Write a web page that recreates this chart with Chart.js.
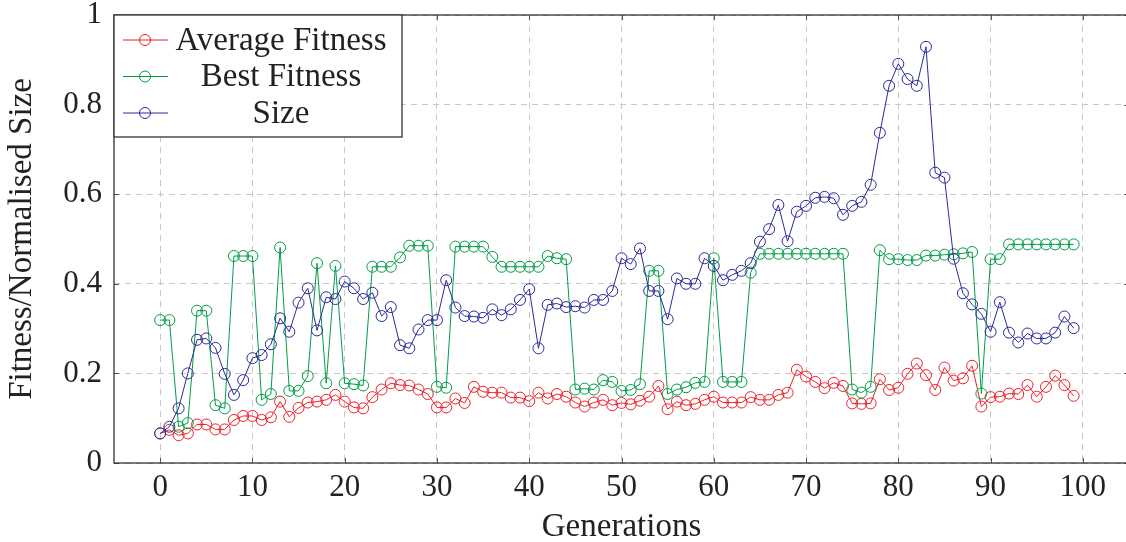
<!DOCTYPE html>
<html>
<head>
<meta charset="utf-8">
<title>Fitness and size per generation</title>
<script src="https://cdn.jsdelivr.net/npm/chart.js@4.4.1/dist/chart.umd.min.js"></script>
<style>
  html, body { margin: 0; padding: 0; background: #fff; overflow: hidden; }
  #wrap { position: absolute; left: 0; top: 0; width: 1140px; height: 542px; }
</style>
</head>
<body>
<div id="wrap"><canvas id="evoChart"></canvas></div>
<script>
/* global Chart */

// generation index for every sample
const generations = Array.from({ length: 100 }, (_, i) => i);

const avgFitness = [
  0.066, 0.074, 0.062, 0.066, 0.086, 0.086, 0.075, 0.075, 0.096, 0.105,
  0.105, 0.096, 0.102, 0.137, 0.103, 0.123, 0.135, 0.137, 0.141, 0.152,
  0.137, 0.124, 0.122, 0.147, 0.164, 0.178, 0.174, 0.173, 0.164, 0.154,
  0.124, 0.124, 0.144, 0.134, 0.170, 0.159, 0.157, 0.157, 0.146, 0.146,
  0.138, 0.157, 0.144, 0.154, 0.148, 0.135, 0.126, 0.135, 0.141, 0.129,
  0.134, 0.131, 0.139, 0.148, 0.172, 0.120, 0.137, 0.129, 0.132, 0.141,
  0.148, 0.135, 0.135, 0.135, 0.147, 0.141, 0.141, 0.152, 0.157, 0.208,
  0.193, 0.181, 0.167, 0.179, 0.172, 0.133, 0.132, 0.133, 0.187, 0.163,
  0.168, 0.199, 0.222, 0.196, 0.163, 0.213, 0.184, 0.189, 0.217, 0.126,
  0.147, 0.148, 0.155, 0.154, 0.174, 0.148, 0.170, 0.195, 0.174, 0.150
];

const bestFitness = [
  0.319, 0.319, 0.081, 0.089, 0.340, 0.340, 0.129, 0.122, 0.462, 0.462,
  0.462, 0.141, 0.154, 0.481, 0.161, 0.161, 0.194, 0.446, 0.178, 0.440,
  0.178, 0.176, 0.173, 0.438, 0.438, 0.438, 0.459, 0.485, 0.485, 0.485,
  0.170, 0.168, 0.483, 0.483, 0.483, 0.483, 0.460, 0.438, 0.438, 0.438,
  0.438, 0.438, 0.462, 0.457, 0.455, 0.164, 0.166, 0.164, 0.185, 0.181,
  0.161, 0.163, 0.176, 0.429, 0.429, 0.154, 0.164, 0.169, 0.179, 0.181,
  0.457, 0.181, 0.181, 0.181, 0.425, 0.467, 0.467, 0.467, 0.467, 0.467,
  0.467, 0.467, 0.467, 0.467, 0.467, 0.164, 0.157, 0.170, 0.475, 0.455,
  0.455, 0.453, 0.453, 0.463, 0.463, 0.465, 0.466, 0.468, 0.471, 0.155,
  0.455, 0.455, 0.488, 0.488, 0.488, 0.488, 0.488, 0.488, 0.488, 0.488
];

const sizeNorm = [
  0.066, 0.081, 0.122, 0.200, 0.275, 0.278, 0.257, 0.199, 0.152, 0.185,
  0.234, 0.241, 0.265, 0.323, 0.293, 0.358, 0.390, 0.296, 0.370, 0.366,
  0.405, 0.390, 0.366, 0.380, 0.328, 0.348, 0.263, 0.256, 0.298, 0.319,
  0.319, 0.408, 0.347, 0.328, 0.327, 0.324, 0.343, 0.330, 0.343, 0.364,
  0.388, 0.256, 0.353, 0.356, 0.348, 0.350, 0.347, 0.364, 0.364, 0.384,
  0.457, 0.444, 0.479, 0.384, 0.384, 0.321, 0.412, 0.400, 0.400, 0.457,
  0.440, 0.408, 0.420, 0.429, 0.446, 0.494, 0.522, 0.576, 0.495, 0.561,
  0.574, 0.592, 0.594, 0.591, 0.554, 0.574, 0.583, 0.621, 0.737, 0.842,
  0.891, 0.857, 0.842, 0.929, 0.648, 0.637, 0.456, 0.379, 0.354, 0.333,
  0.293, 0.359, 0.291, 0.269, 0.289, 0.278, 0.278, 0.291, 0.327, 0.301
];

const xTicks = [0, 10, 20, 30, 40, 50, 60, 70, 80, 90, 100];
const yTicks = [0, 0.2, 0.4, 0.6, 0.8, 1];

const FONT = "'Liberation Serif', 'DejaVu Serif', serif";

function series(label, values, color, order) {
  return {
    label: label,
    data: values.map((v, i) => ({ x: generations[i], y: v })),
    borderColor: color,
    backgroundColor: color,
    borderWidth: 1,
    pointStyle: "circle",
    pointRadius: 5.5,
    pointBorderWidth: 1,
    pointBorderColor: color,
    pointBackgroundColor: "transparent",
    tension: 0,
    order: order,
  };
}

// inner tick marks, box around the plot and the boxed legend
const frameAndLegend = {
  id: "frameAndLegend",
  afterDraw(chart) {
    const ctx = chart.ctx;
    const a = chart.chartArea;
    const x = chart.scales.x;
    const y = chart.scales.y;
    ctx.save();

    ctx.strokeStyle = "#555";
    ctx.lineWidth = 1;
    ctx.beginPath();
    xTicks.forEach(function (v) {
      const px = Math.round(x.getPixelForValue(v)) + 0.5;
      ctx.moveTo(px, a.bottom);
      ctx.lineTo(px, a.bottom - 5);
      ctx.moveTo(px, a.top);
      ctx.lineTo(px, a.top + 5);
    });
    yTicks.forEach(function (v) {
      const py = Math.round(y.getPixelForValue(v)) + 0.5;
      ctx.moveTo(a.left, py);
      ctx.lineTo(a.left + 5, py);
      ctx.moveTo(a.right, py);
      ctx.lineTo(a.right - 5, py);
    });
    ctx.stroke();

    ctx.strokeStyle = "#333";
    ctx.lineWidth = 1.3;
    ctx.strokeRect(a.left, a.top, a.right - a.left, a.bottom - a.top);

    // legend
    const lx = a.left, ly = a.top, lw = 288, lh = 122;
    ctx.fillStyle = "#fff";
    ctx.fillRect(lx, ly, lw, lh);
    ctx.strokeRect(lx, ly, lw, lh);
    ctx.font = "33px " + FONT;
    ctx.textAlign = "center";
    ctx.textBaseline = "middle";
    chart.data.datasets.forEach(function (ds, i) {
      const ry = ly + 25 + i * 36.5;
      ctx.strokeStyle = ds.borderColor;
      ctx.lineWidth = 1;
      ctx.beginPath();
      ctx.moveTo(lx + 9, ry);
      ctx.lineTo(lx + 54, ry);
      ctx.stroke();
      ctx.beginPath();
      ctx.arc(lx + 31, ry, 5.5, 0, Math.PI * 2);
      ctx.stroke();
      ctx.fillStyle = "#222";
      ctx.fillText(ds.label, lx + 167, ry + 1);
    });
    ctx.restore();
  },
};

const ctx = document.getElementById("evoChart").getContext("2d");
const evoChart = new Chart(ctx, {
  type: "line",
  data: {
    datasets: [
      series("Average Fitness", avgFitness, "rgb(238, 32, 42)", 2),
      series("Best Fitness", bestFitness, "rgb(0, 156, 72)", 1),
      series("Size", sizeNorm, "rgb(42, 42, 152)", 0),
    ],
  },
  options: {
    responsive: true,
    maintainAspectRatio: false,
    animation: false,
    layout: { padding: { left: 0, top: 15, right: 11, bottom: 0 } },
    plugins: {
      legend: { display: false },
      tooltip: { enabled: false },
    },
    scales: {
      x: {
        type: "linear",
        min: -5,
        max: 105,
        afterBuildTicks(scale) {
          scale.ticks = xTicks.map((v) => ({ value: v }));
        },
        afterFit(scale) {
          scale.height = 79;
          scale.paddingLeft = 0;
          scale.paddingRight = 0;
        },
        ticks: {
          padding: 6,
          maxRotation: 0,
          autoSkip: false,
          color: "#222",
          font: { family: FONT, size: 31 },
          callback: (v) => String(v),
        },
        grid: {
          color: "#c8c8c8",
          lineWidth: 1,
          drawTicks: false,
        },
        border: { display: false, dash: [6, 5] },
        title: {
          display: true,
          text: "Generations",
          color: "#222",
          font: { family: FONT, size: 33 },
          padding: { top: 0, bottom: -5 },
        },
      },
      y: {
        min: 0,
        max: 1,
        afterBuildTicks(scale) {
          scale.ticks = yTicks.map((v) => ({ value: v }));
        },
        afterFit(scale) {
          scale.width = 114;
          scale.paddingTop = 0;
          scale.paddingBottom = 0;
        },
        ticks: {
          padding: 12,
          color: "#222",
          font: { family: FONT, size: 31 },
          callback: (v) => String(v),
        },
        grid: {
          color: "#c8c8c8",
          lineWidth: 1,
          drawTicks: false,
        },
        border: { display: false, dash: [6, 5] },
        title: {
          display: true,
          text: "Fitness/Normalised Size",
          color: "#222",
          font: { family: FONT, size: 33 },
          padding: { top: 3, bottom: 0 },
        },
      },
    },
  },
  plugins: [frameAndLegend],
});
</script>
</body>
</html>
